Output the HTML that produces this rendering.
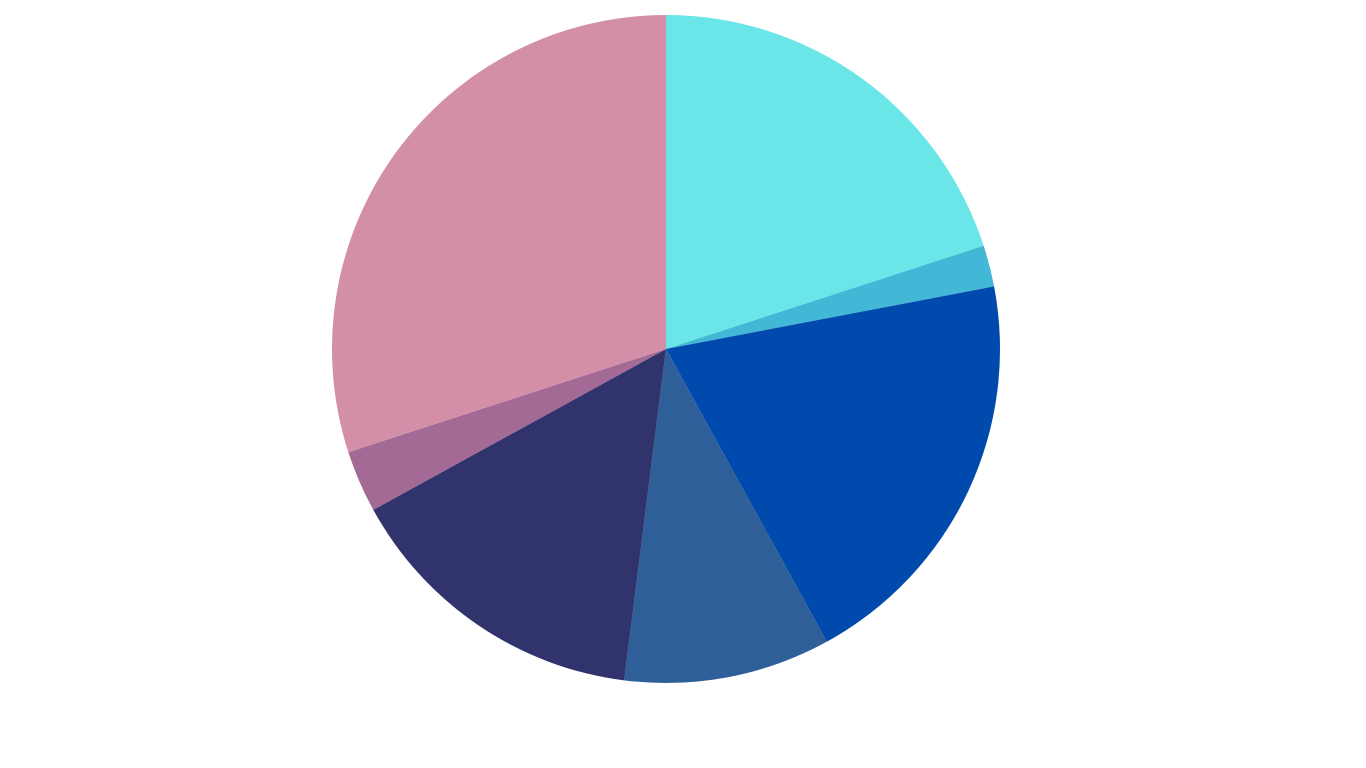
<!DOCTYPE html>
<html>
<head>
<meta charset="utf-8">
<style>
  html,body{margin:0;padding:0;background:#fff;width:1366px;height:768px;overflow:hidden;font-family:"Liberation Sans",sans-serif;}
  svg{display:block;}
</style>
</head>
<body>
<svg id="chart" width="1366" height="768" viewBox="0 0 1366 768"></svg>
<script>
const categories = ["slice-1","slice-2","slice-3","slice-4","slice-5","slice-6","slice-7"];
const values = [20, 2, 20, 10, 15, 3, 30];
const colors = ["#6ae5e8","#42b7d6","#004aad","#2e5f99","#31346c","#a26a94","#d48fa8"];

const cx = 666, cy = 349, r = 334;
const svg = document.getElementById('chart');
const total = values.reduce((a,b)=>a+b,0);
function angleScale(v){ return v/total*2*Math.PI; }
function pt(a){ return [cx + r*Math.sin(a), cy - r*Math.cos(a)]; }
let start = 0;
values.forEach((v,i)=>{
  const end = start + angleScale(v);
  const [x1,y1] = pt(start), [x2,y2] = pt(end);
  const large = (end-start) > Math.PI ? 1 : 0;
  const p = document.createElementNS('http://www.w3.org/2000/svg','path');
  p.setAttribute('d', `M${cx},${cy} L${x1},${y1} A${r},${r} 0 ${large} 1 ${x2},${y2} Z`);
  p.setAttribute('fill', colors[i]);
  
  
  svg.appendChild(p);
  start = end;
});
</script>
</body>
</html>
